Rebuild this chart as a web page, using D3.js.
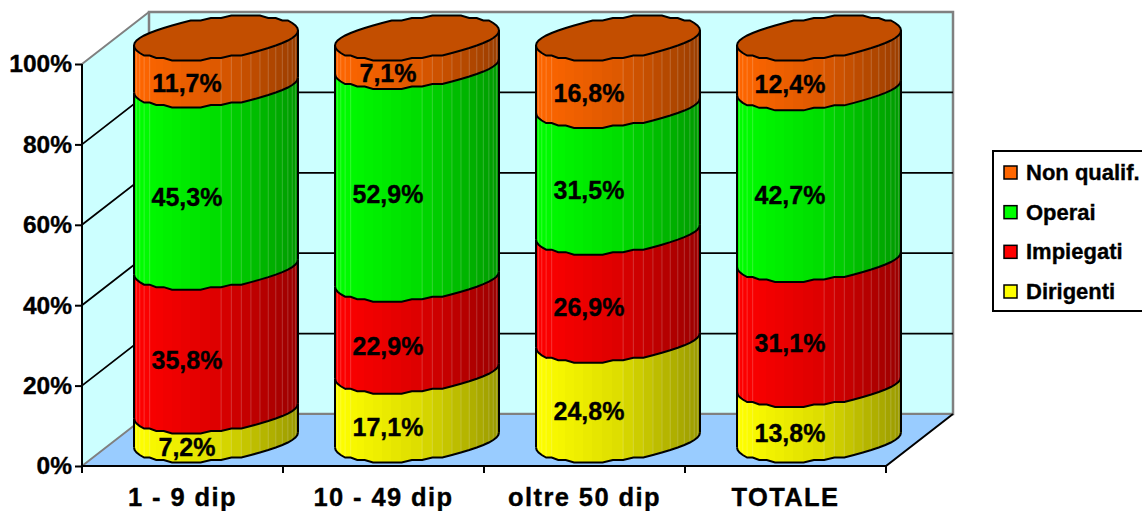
<!DOCTYPE html>
<html>
<head>
<meta charset="utf-8">
<script src="https://cdn.jsdelivr.net/npm/d3@7"></script>
<style>
  html, body { margin: 0; padding: 0; background: #fff; }
  text { font-family: "Liberation Sans", Arial, sans-serif; font-weight: bold; fill: #000; stroke: #000; stroke-width: 0.35px; }
</style>
</head>
<body>
<div id="chart"></div>
<script>
var categories = ["1 - 9 dip", "10 - 49 dip", "oltre 50 dip", "TOTALE"];
var seriesNames = ["Dirigenti", "Impiegati", "Operai", "Non qualif."];
var dirigenti = [7.2, 17.1, 24.8, 13.8];
var impiegati = [35.8, 22.9, 26.9, 31.1];
var operai = [45.3, 52.9, 31.5, 42.7];
var nonQualif = [11.7, 7.1, 16.8, 12.4];
var seriesValues = [dirigenti, impiegati, operai, nonQualif];
var seriesColors = ["#ffff00", "#ff0000", "#00ff00", "#ff6600"];
var axisTicks = [0, 20, 40, 60, 80, 100];

var width = 1142, height = 511;
var svg = d3.select("#chart").append("svg")
  .attr("width", width)
  .attr("height", height)
  .style("display", "block");

// front plane of the 3d box, and how far the back wall is pushed
var x = d3.scaleBand().domain(categories).range([82, 886]);
var y = d3.scaleLinear().domain([0, 100]).range([466, 64]);
var depthX = 67, depthY = -52;

function pts(a) { return a.map(function(p) { return p.join(","); }).join(" "); }

// walls and floor
var x0 = x.range()[0], x1 = x.range()[1];
var yBase = y(0), yTop = y(100);
svg.append("polygon")
  .attr("points", pts([[x0, yBase], [x0 + depthX, yBase + depthY], [x0 + depthX, yTop + depthY], [x0, yTop]]))
  .style("fill", "#ccffff");
svg.append("rect")
  .attr("x", x0 + depthX).attr("y", yTop + depthY)
  .attr("width", x1 - x0).attr("height", yBase - yTop)
  .style("fill", "#ccffff")
  .style("stroke", "#808080").style("stroke-width", 2.5);
svg.append("polygon")
  .attr("points", pts([[x0, yBase], [x1, yBase], [x1 + depthX, yBase + depthY], [x0 + depthX, yBase + depthY]]))
  .style("fill", "#99ccff");

// grey edges of the box
svg.append("path")
  .attr("d", "M" + x0 + "," + yTop + "L" + (x0 + depthX) + "," + (yTop + depthY) +
    "M" + x0 + "," + yBase + "L" + (x0 + depthX) + "," + (yBase + depthY) +
    "M" + (x0 + depthX) + "," + (yBase + depthY) + "H" + (x1 + depthX))
  .style("fill", "none").style("stroke", "#808080").style("stroke-width", 2);

// gridlines, side wall then back wall
axisTicks.slice(1, -1).forEach(function(t) {
  svg.append("path")
    .attr("d", "M" + x0 + "," + y(t) + "L" + (x0 + depthX) + "," + (y(t) + depthY) + "H" + (x1 + depthX))
    .style("fill", "none").style("stroke", "#000").style("stroke-width", 1.8);
});

// front edges of the floor and the value axis
svg.append("path")
  .attr("d", "M" + x0 + "," + yTop + "V" + yBase + "H" + x1 + "L" + (x1 + depthX) + "," + (yBase + depthY))
  .style("fill", "none").style("stroke", "#000").style("stroke-width", 2);

var yAxis = d3.axisLeft(y).tickValues(axisTicks).tickSize(7).tickPadding(3)
  .tickFormat(function(d) { return d + "%"; });
var gy = svg.append("g").attr("transform", "translate(" + x0 + ",0)").call(yAxis);
gy.select(".domain").remove();
gy.selectAll("line").style("stroke", "#000").style("stroke-width", 2);
gy.selectAll("text").style("font-size", "24.5px");

var bandTicks = categories.map(function(c) { return x(c); }).concat([x1]);
svg.selectAll(".xtick").data(bandTicks).enter().append("line")
  .attr("class", "xtick")
  .attr("x1", function(d) { return d; }).attr("x2", function(d) { return d; })
  .attr("y1", yBase).attr("y2", yBase + 7)
  .style("stroke", "#000").style("stroke-width", 2);
svg.selectAll(".xlabel").data(categories).enter().append("text")
  .attr("class", "xlabel")
  .attr("x", function(d) { return x(d) + x.bandwidth() / 2; })
  .attr("y", 506)
  .attr("text-anchor", "middle")
  .style("font-size", "25.5px")
  .style("letter-spacing", "1.4px")
  .text(function(d) { return d; });

// cylinders are 50 sided prisms stacked from the floor up
var sides = 50, radius = 82, shear = 7.5, ryFront = 20.5;
var angles = d3.range(sides + 1).map(function(i) { return i * 2 * Math.PI / sides; });
// only the front half of the rim is visible, left to right
var front = d3.range(0, sides / 2 + 1).map(function(i) { return Math.PI + i * 2 * Math.PI / sides; });

function rimX(cx, t) { return cx + radius * Math.cos(t); }
// y is snapped to a coarse grid, the outline is stepped like a low res plot
function rimY(cy, t) {
  return cy + Math.round((-shear * Math.cos(t) - ryFront * Math.sin(t)) / 2.5) * 2.5;
}

var shade = d3.scaleLinear().domain([-1, 0, 1]).range([1, 0.87, 0.6]);
function facetColor(col, c) {
  var r = d3.rgb(col), k = shade(c);
  return d3.rgb(r.r * k, r.g * k, r.b * k).formatHex();
}

categories.forEach(function(cat, ci) {
  var cx = x(cat) + x.bandwidth() / 2 + depthX / 2;
  var g = svg.append("g");
  var cum = 0;
  seriesValues.forEach(function(vals, si) {
    var v0 = cum, v1 = cum + vals[ci];
    cum = v1;
    var yLow = y(v0) + depthY / 2, yHigh = y(v1) + depthY / 2;
    var col = seriesColors[si];

    for (var i = 0; i < front.length - 1; i++) {
      var a = front[i], b = front[i + 1];
      var fill = facetColor(col, Math.cos((a + b) / 2));
      // crisp edges so neighbouring facets leave no antialiased seam
      g.append("polygon")
        .attr("points", pts([
          [rimX(cx, a), rimY(yLow, a)], [rimX(cx, b), rimY(yLow, b)],
          [rimX(cx, b), rimY(yHigh, b)], [rimX(cx, a), rimY(yHigh, a)]
        ]))
        .style("fill", fill)
        .style("stroke", fill)
        .style("stroke-width", 1)
        .style("shape-rendering", "crispEdges");
    }

    // thin pale seams, mostly on the shaded side
    front.forEach(function(t) {
      var c = Math.cos(t);
      if ((c > -0.97 && c < -0.8) || c > 0.05) {
        g.append("line")
          .attr("x1", rimX(cx, t)).attr("x2", rimX(cx, t))
          .attr("y1", rimY(yLow, t)).attr("y2", rimY(yHigh, t))
          .style("stroke", "#fff").style("stroke-opacity", 0.2).style("stroke-width", 1);
      }
    });

    g.append("polyline")
      .attr("points", pts(front.map(function(t) { return [rimX(cx, t), rimY(yLow, t)]; })))
      .style("fill", "none").style("stroke", "#000").style("stroke-width", 2);
    [Math.PI, 0].forEach(function(t) {
      g.append("line")
        .attr("x1", rimX(cx, t)).attr("x2", rimX(cx, t))
        .attr("y1", rimY(yLow, t)).attr("y2", rimY(yHigh, t))
        .style("stroke", "#000").style("stroke-width", 2);
    });

    // lid on the top segment only
    if (si === seriesValues.length - 1) {
      g.append("polygon")
        .attr("points", pts(angles.map(function(t) { return [rimX(cx, t), rimY(yHigh, t)]; })))
        .style("fill", d3.rgb(col).darker(0.75).formatHex())
        .style("stroke", "#000").style("stroke-width", 2);
    }
  });
});

// value labels sit on the front of each segment, drawn last so nothing covers them
categories.forEach(function(cat, ci) {
  var cx = x(cat) + x.bandwidth() / 2 + depthX / 2;
  var cum = 0;
  seriesValues.forEach(function(vals) {
    var mid = cum + vals[ci] / 2;
    cum += vals[ci];
    svg.append("text")
      .attr("x", cx - 29)
      .attr("y", y(mid) + depthY / 2 + 30)
      .attr("text-anchor", "middle")
      .style("font-size", "25px")
      .text(d3.format(".1f")(vals[ci]).replace(".", ",") + "%");
  });
});

// legend, top series first
var legend = svg.append("g");
legend.append("rect")
  .attr("x", 993).attr("y", 151).attr("width", 160).attr("height", 160)
  .style("fill", "#fff").style("stroke", "#000").style("stroke-width", 2);
var legendItems = seriesNames.map(function(n, i) { return { name: n, color: seriesColors[i] }; }).reverse();
var legendY = d3.scalePoint().domain(legendItems.map(function(d) { return d.name; })).range([172, 291]);
legendItems.forEach(function(d) {
  legend.append("rect")
    .attr("x", 1004).attr("y", legendY(d.name) - 6).attr("width", 13).attr("height", 13)
    .style("fill", d.color).style("stroke", "#000").style("stroke-width", 1.5);
  legend.append("text")
    .attr("x", 1026).attr("y", legendY(d.name) + 8)
    .style("font-size", "22px")
    .text(d.name);
});
</script>
</body>
</html>
